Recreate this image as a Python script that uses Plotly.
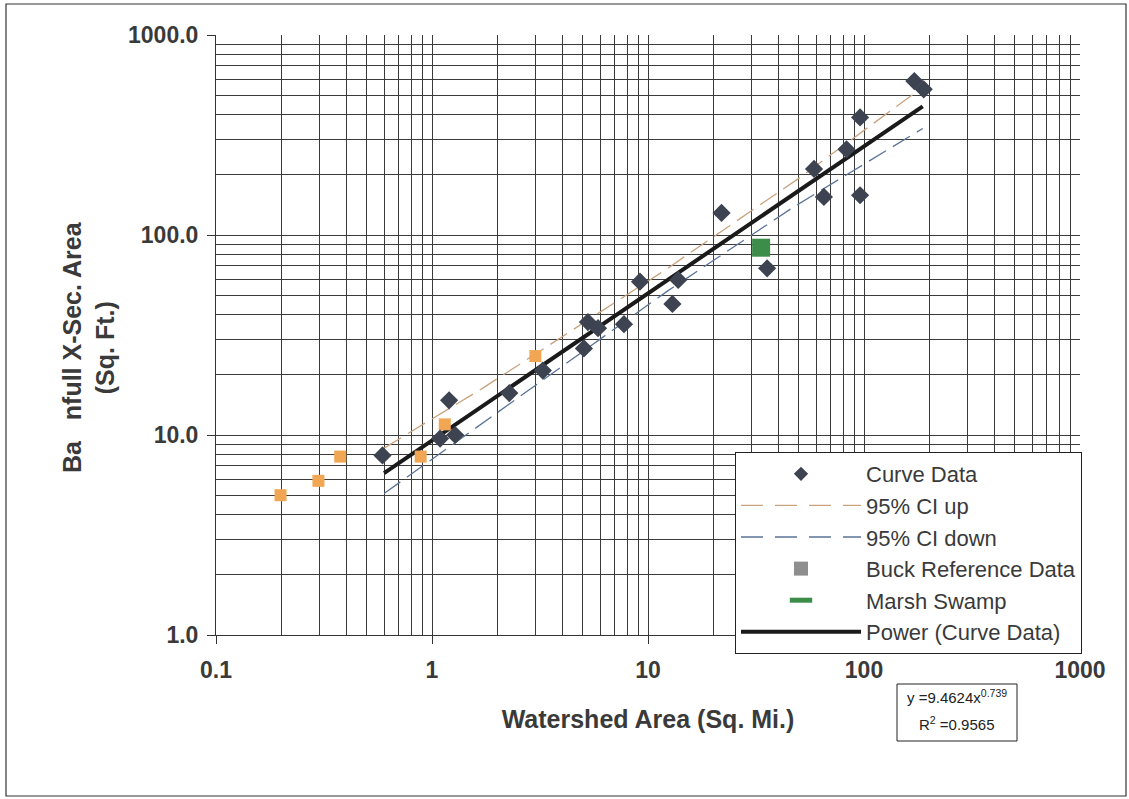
import plotly.graph_objects as go

# ---- data ----
curve_x = [0.59, 1.09, 1.2, 1.28, 2.28, 3.26, 5.05, 5.27, 5.87, 7.74, 9.18, 12.97, 13.8,
           21.9, 35.6, 58.7, 65.2, 83.0, 95.9, 95.9, 171, 189]
curve_y = [7.9, 9.6, 14.9, 10.0, 16.2, 21.0, 27.1, 36.7, 34.2, 35.8, 58.4, 45.2, 59.6,
           129, 68.1, 214, 155, 268, 387, 158, 588, 535]

buck_x = [0.199, 0.298, 0.376, 0.886, 1.146, 3.01]
buck_y = [5.0, 5.9, 7.8, 7.8, 11.3, 24.8]

marsh_x = [33.4]
marsh_y = [86.4]

ci_up_x = [0.6, 1.71, 12.0, 50.9, 171]
ci_up_y = [8.6, 17.1, 66.8, 195, 511]

ci_dn_x = [0.6, 2.83, 12.2, 47.5, 187]
ci_dn_y = [5.1, 16.8, 52.1, 138.6, 341]

power_x = [0.6, 187]
power_y = [6.45, 440]

x_tickvals = [0.1, 1, 10, 100, 1000]
x_ticktext = ["0.1", "1", "10", "100", "1000"]
y_tickvals = [1, 10, 100, 1000]
y_ticktext = ["1.0", "10.0", "100.0", "1000.0"]
y_gridvals = [10, 100]

FONT = "Arial, Liberation Sans, sans-serif"
GRID = "#3a3a3a"
TXT = "#3a3a3a"

fig = go.Figure()

# plotted traces
fig.add_trace(go.Scatter(x=ci_up_x, y=ci_up_y, mode="lines", name="95% CI up",
                         line=dict(color="#c9a27e", width=1.3, dash="20px,8px"),
                         showlegend=False))
fig.add_trace(go.Scatter(x=ci_dn_x, y=ci_dn_y, mode="lines", name="95% CI down",
                         line=dict(color="#5b7398", width=1.3, dash="20px,8px"),
                         showlegend=False))
fig.add_trace(go.Scatter(x=power_x, y=power_y, mode="lines", name="Power (Curve Data)",
                         line=dict(color="#1a1a1a", width=4),
                         showlegend=False))
fig.add_trace(go.Scatter(x=buck_x, y=buck_y, mode="markers", name="Buck Reference Data",
                         marker=dict(symbol="square", size=12, color="#f0a652"),
                         showlegend=False))
fig.add_trace(go.Scatter(x=marsh_x, y=marsh_y, mode="markers", name="Marsh Swamp",
                         marker=dict(symbol="square", size=18, color="#3c8c4a"),
                         showlegend=False))
fig.add_trace(go.Scatter(x=curve_x, y=curve_y, mode="markers", name="Curve Data",
                         marker=dict(symbol="diamond", size=14, color="#3d4350"),
                         showlegend=False))

# legend entries
fig.add_trace(go.Scatter(x=[None], y=[None], mode="markers", name="Curve Data",
                         marker=dict(symbol="diamond", size=11, color="#3d4350"),
                         legendrank=1))
fig.add_trace(go.Scatter(x=[None], y=[None], mode="lines", name="95% CI up",
                         line=dict(color="#c9a27e", width=1.3, dash="22px,12px"),
                         legendrank=2))
fig.add_trace(go.Scatter(x=[None], y=[None], mode="lines", name="95% CI down",
                         line=dict(color="#5b7398", width=1.3, dash="22px,12px"),
                         legendrank=3))
fig.add_trace(go.Scatter(x=[None], y=[None], mode="markers", name="Buck Reference Data",
                         marker=dict(symbol="square", size=14, color="#8e8e8e"),
                         legendrank=4))
fig.add_trace(go.Scatter(x=[None], y=[None], mode="markers", name="Marsh Swamp",
                         marker=dict(symbol="line-ew", size=16, color="#3c8c4a",
                                     line=dict(color="#3c8c4a", width=6)),
                         legendrank=5))
fig.add_trace(go.Scatter(x=[None], y=[None], mode="lines", name="Power (Curve Data)",
                         line=dict(color="#1a1a1a", width=4),
                         legendrank=6))
# helper trace for the overlay grid axis
fig.add_trace(go.Scatter(x=[None], y=[None], yaxis="y2", showlegend=False, hoverinfo="skip"))

minor_grid = dict(dtick="D1", showgrid=True, gridcolor=GRID, gridwidth=1.2, ticks="")
tickfont = dict(family=FONT, size=23, color=TXT, weight="bold")

fig.update_layout(
    width=1129, height=799,
    margin=dict(l=216, r=49, t=35, b=164),
    paper_bgcolor="white", plot_bgcolor="white",
    font=dict(family=FONT, color=TXT),
    xaxis=dict(type="log", range=[-1, 3], tickvals=x_tickvals, ticktext=x_ticktext,
               showline=True, linecolor="#333", linewidth=1,
               showgrid=True, gridcolor=GRID, gridwidth=1.2,
               ticks="outside", ticklen=8, tickcolor="#333", tickfont=tickfont,
               ticklabelstandoff=6, zeroline=False, minor=minor_grid,
               title=dict(text="Watershed Area (Sq. Mi.)", standoff=28,
                          font=dict(family=FONT, size=25, color=TXT, weight="bold"))),
    yaxis=dict(type="log", range=[0, 3], tickvals=y_tickvals, ticktext=y_ticktext,
               showline=True, linecolor="#333", linewidth=1,
               showgrid=False,
               ticks="outside", ticklen=8, tickcolor="#333", tickfont=tickfont,
               ticklabelstandoff=4, zeroline=False, minor=minor_grid),
    yaxis2=dict(type="log", range=[0, 3], overlaying="y", side="left",
                tickvals=y_gridvals, showticklabels=False, ticks="",
                showgrid=True, gridcolor=GRID, gridwidth=1.2,
                showline=False, zeroline=False),
    legend=dict(x=(735 - 216) / 864, y=(635 - 452) / 600, xanchor="left", yanchor="top",
                bgcolor="white", bordercolor="#222", borderwidth=1,
                font=dict(family=FONT, size=22, color=TXT),
                itemwidth=120, entrywidth=260, entrywidthmode="pixels",
                traceorder="normal"),
    showlegend=True,
)

# y-axis title (two lines, rotated)
fig.add_annotation(
    xref="paper", yref="paper", x=(88 - 216) / 864, y=(635 - 347) / 600,
    xanchor="center", yanchor="middle", textangle=-90, showarrow=False,
    text="Ba\u00a0\u00a0\u00a0nfull X-Sec. Area<br>(Sq. Ft.)",
    font=dict(family=FONT, size=25, color=TXT, weight="bold"),
)

# trendline equation box
fig.add_shape(type="rect", xref="paper", yref="paper",
              x0=(897 - 216) / 864, x1=(1017 - 216) / 864,
              y0=(635 - 741) / 600, y1=(635 - 684) / 600,
              line=dict(color="#222", width=1), fillcolor="white")
fig.add_annotation(
    xref="paper", yref="paper", x=(957 - 216) / 864, y=(635 - 696) / 600,
    xanchor="center", yanchor="middle", showarrow=False,
    text="y =9.4624x<sup>0.739</sup>", font=dict(family=FONT, size=15, color="#222"),
)
fig.add_annotation(
    xref="paper", yref="paper", x=(957 - 216) / 864, y=(635 - 723) / 600,
    xanchor="center", yanchor="middle", showarrow=False,
    text="R<sup>2</sup> =0.9565", font=dict(family=FONT, size=15, color="#222"),
)

# outer chart frame
fig.add_shape(type="rect", xref="paper", yref="paper",
              x0=(6 - 216) / 864, x1=(1126 - 216) / 864,
              y0=(635 - 796) / 600, y1=(635 - 4) / 600,
              line=dict(color="#333", width=1.2), fillcolor="rgba(0,0,0,0)", layer="below")

fig.write_html("out.html")
